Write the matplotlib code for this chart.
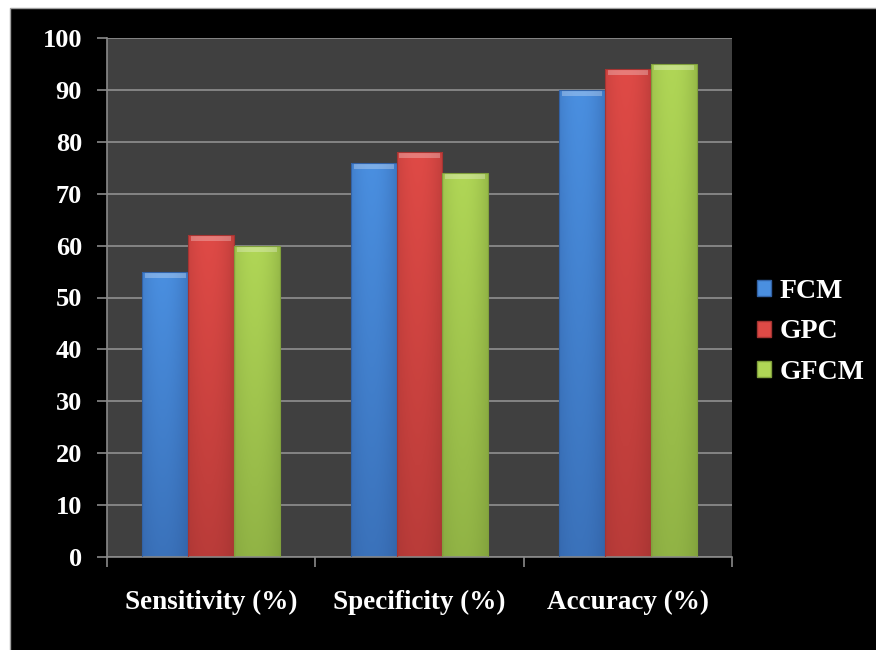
import numpy as np
import matplotlib
matplotlib.use("Agg")
import matplotlib.pyplot as plt
from matplotlib.patches import Rectangle
from matplotlib.colors import LinearSegmentedColormap

categories = ["Sensitivity (%)", "Specificity (%)", "Accuracy (%)"]
series_names = ["FCM", "GPC", "GFCM"]
fcm = [55, 76, 90]
gpc = [62, 78, 94]
gfcm = [60, 74, 95]
y_ticks = [0, 10, 20, 30, 40, 50, 60, 70, 80, 90, 100]

# top / bottom shades for each series gradient
shades = [("#4a8fe0", "#3262a6"),
          ("#df4a46", "#a53432"),
          ("#b0d656", "#80a03c")]

plt.rcParams["font.family"] = ["Liberation Serif", "DejaVu Serif"]
plt.rcParams["font.weight"] = "bold"

fig = plt.figure(figsize=(8.76, 6.5), dpi=100, facecolor="white")
# black panel behind the chart, with a thin grey edge
fig.patches.append(Rectangle((10 / 876, -0.01), 1, 1.01 - 8 / 650, transform=fig.transFigure,
                             facecolor="black", edgecolor="#a0a0a0", linewidth=1.0,
                             zorder=-5))

ax = fig.add_axes([107 / 876, 1 - 557 / 650, 625 / 876, 519 / 650])
ax.set_facecolor("#404040")

x = np.arange(len(categories))
width = 0.22
all_series = [fcm, gpc, gfcm]
legend_handles = []
for i, (vals, name, (c_top, c_bot)) in enumerate(zip(all_series, series_names, shades)):
    bars = ax.bar(x + (i - 1) * width, vals, width, color=c_bot, edgecolor="none",
                  zorder=2, label=name)
    cmap = LinearSegmentedColormap.from_list(name, [c_bot, c_top])
    for b in bars:
        bx, by = b.get_x(), b.get_y()
        bw, bh = b.get_width(), b.get_height()
        # horizontal shading: brighter in the middle, darker at the sides
        h = np.linspace(0, 1, 64)
        horiz = 1 - 0.35 * (np.abs(h - 0.45) / 0.55) ** 2
        v = np.linspace(0.55, 1.0, 128)[:, None]
        grad = v * horiz[None, :]
        im = ax.imshow(grad, extent=[bx, bx + bw, by, by + bh], origin="lower",
                       cmap=cmap, vmin=0.3, vmax=1.0, aspect="auto", zorder=2.5,
                       interpolation="bilinear")
        im.set_clip_path(b)
        # bevelled highlight on the top edge
        ax.add_patch(Rectangle((bx + bw * 0.06, by + bh - 1.2), bw * 0.88, 1.0,
                               facecolor="white", alpha=0.28, edgecolor="none",
                               zorder=3))
        ax.add_patch(Rectangle((bx, by), bw, bh, facecolor="none",
                               edgecolor=c_bot, linewidth=0.8, zorder=3))
    legend_handles.append(Rectangle((0, 0), 1, 1, facecolor=c_top, edgecolor=c_bot))

ax.set_xlim(-0.5, len(categories) - 0.5)
ax.set_ylim(0, 100)
ax.set_yticks(y_ticks)
ax.set_yticklabels([str(t) for t in y_ticks], fontsize=19, fontweight="bold", color="white")
ax.set_xticks(x)
ax.set_xticklabels(categories, fontsize=19.5, fontweight="bold", color="white")
ax.tick_params(axis="x", length=0, pad=24)
ax.set_xticks(np.arange(-0.5, len(categories), 1.0), minor=True)
ax.tick_params(axis="x", which="minor", length=7, color="#8a8a8a", width=1.2, direction="out")
ax.tick_params(axis="y", length=7, color="#8a8a8a", width=1.2, direction="out", pad=11)

ax.yaxis.grid(True, color="#8a8a8a", linewidth=1.3, zorder=1)
ax.set_axisbelow(True)
for side in ["top", "right"]:
    ax.spines[side].set_visible(False)
for side in ["left", "bottom"]:
    ax.spines[side].set_color("#8a8a8a")
    ax.spines[side].set_linewidth(1.2)

leg = fig.legend(legend_handles, series_names, loc="center left",
                 bbox_to_anchor=(732 / 876, 1 - 332 / 650), frameon=False,
                 prop={"family": ["Liberation Serif"], "weight": "bold", "size": 20},
                 labelcolor="white", handlelength=0.5, handleheight=0.5,
                 handletextpad=0.3, labelspacing=0.55)

fig.savefig("out.png", dpi=100, facecolor=fig.get_facecolor())
